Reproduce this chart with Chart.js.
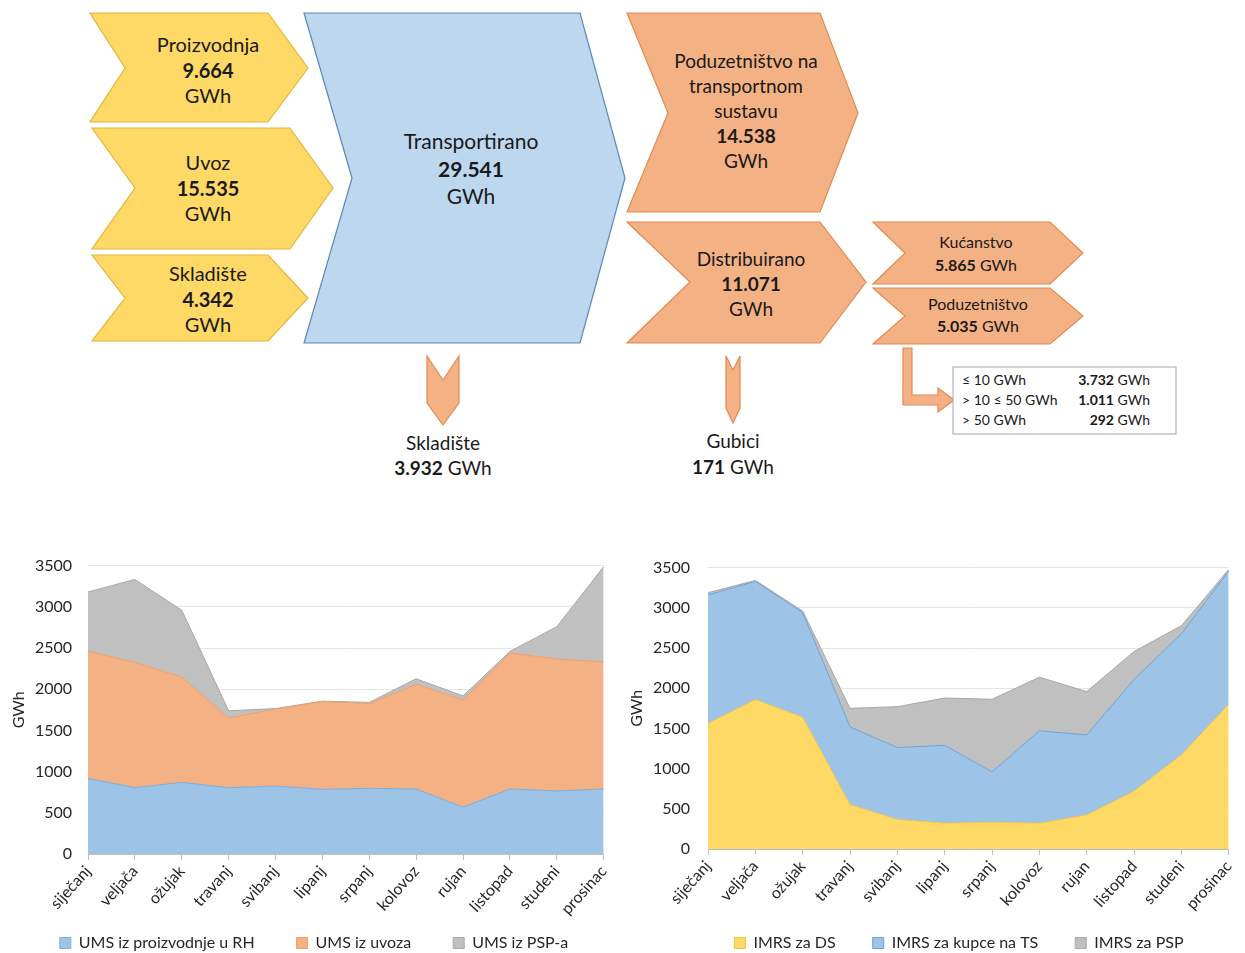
<!DOCTYPE html>
<html>
<head>
<meta charset="utf-8">
<script src="https://cdn.jsdelivr.net/npm/chart.js@4/dist/chart.umd.min.js"></script>
<style>
  html, body { margin: 0; padding: 0; background: #fff; overflow: hidden; width: 1245px; height: 953px; }
  #flow { position: absolute; left: 0; top: 0; }
  #leftChart { position: absolute; left: 0; top: 540px; }
  #rightChart { position: absolute; left: 620px; top: 540px; }
  svg text { font-family: Lato, "Open Sans", sans-serif; fill: #1a1a1a; }
</style>
</head>
<body>

<svg id="flow" width="1245" height="540" xmlns="http://www.w3.org/2000/svg">
  <!-- inputs -->
  <polygon points="90,13 268,13 308,68 268,122 90,122 125,68" fill="#ffd966" stroke="#e2b53a" stroke-width="1.2"/>
  <text x="208" y="52" font-size="20" text-anchor="middle">Proizvodnja</text>
  <text x="208" y="78" font-size="20" text-anchor="middle" font-weight="bold">9.664</text>
  <text x="208" y="103" font-size="20" text-anchor="middle">GWh</text>

  <polygon points="92,128 290,128 333,188 290,249 92,249 135,188" fill="#ffd966" stroke="#e2b53a" stroke-width="1.2"/>
  <text x="208" y="170" font-size="20" text-anchor="middle">Uvoz</text>
  <text x="208" y="196" font-size="20" text-anchor="middle" font-weight="bold">15.535</text>
  <text x="208" y="221" font-size="20" text-anchor="middle">GWh</text>

  <polygon points="92,255 268,255 308,298 268,341 92,341 125,298" fill="#ffd966" stroke="#e2b53a" stroke-width="1.2"/>
  <text x="208" y="281" font-size="20" text-anchor="middle">Skladište</text>
  <text x="208" y="307" font-size="20" text-anchor="middle" font-weight="bold">4.342</text>
  <text x="208" y="332" font-size="20" text-anchor="middle">GWh</text>

  <!-- transport -->
  <polygon points="304,13 580,13 625,178 580,343 304,343 352,178" fill="#bdd7ee" stroke="#5b87b8" stroke-width="1.2"/>
  <text x="471" y="149" font-size="21" text-anchor="middle">Transportirano</text>
  <text x="471" y="177" font-size="21" text-anchor="middle" font-weight="bold">29.541</text>
  <text x="471" y="204" font-size="21" text-anchor="middle">GWh</text>

  <!-- outputs -->
  <polygon points="627,13 820,13 858,113 820,212 627,212 668,113" fill="#f4b183" stroke="#e08a52" stroke-width="1.2"/>
  <text x="746" y="68" font-size="19" text-anchor="middle">Poduzetništvo na</text>
  <text x="746" y="93" font-size="19" text-anchor="middle">transportnom</text>
  <text x="746" y="118" font-size="19" text-anchor="middle">sustavu</text>
  <text x="746" y="143" font-size="19" text-anchor="middle" font-weight="bold">14.538</text>
  <text x="746" y="168" font-size="19" text-anchor="middle">GWh</text>

  <polygon points="627,222 820,222 866,282 820,343 627,343 690,282" fill="#f4b183" stroke="#e08a52" stroke-width="1.2"/>
  <text x="751" y="266" font-size="19" text-anchor="middle">Distribuirano</text>
  <text x="751" y="291" font-size="19" text-anchor="middle" font-weight="bold">11.071</text>
  <text x="751" y="316" font-size="19" text-anchor="middle">GWh</text>

  <polygon points="873,222 1050,222 1083,253 1050,284 873,284 905,253" fill="#f4b183" stroke="#e08a52" stroke-width="1.2"/>
  <text x="976" y="248" font-size="16" text-anchor="middle">Kućanstvo</text>
  <text x="976" y="271" font-size="16" text-anchor="middle"><tspan font-weight="bold">5.865</tspan> GWh</text>

  <polygon points="873,288 1050,288 1083,316 1050,344 873,344 905,316" fill="#f4b183" stroke="#e08a52" stroke-width="1.2"/>
  <text x="978" y="310" font-size="16" text-anchor="middle">Poduzetništvo</text>
  <text x="978" y="332" font-size="16" text-anchor="middle"><tspan font-weight="bold">5.035</tspan> GWh</text>

  <!-- down arrows -->
  <polygon points="427,356 443,380 459,356 459,403 443,425 427,403" fill="#f4b183" stroke="#e08a52" stroke-width="1.2"/>
  <text x="443" y="450" font-size="19" text-anchor="middle">Skladište</text>
  <text x="443" y="475" font-size="19" text-anchor="middle"><tspan font-weight="bold">3.932</tspan> GWh</text>

  <polygon points="726,356 733,370 740,356 740,408 733,423 726,408" fill="#f4b183" stroke="#e08a52" stroke-width="1.2"/>
  <text x="733" y="448" font-size="19" text-anchor="middle">Gubici</text>
  <text x="733" y="474" font-size="19" text-anchor="middle"><tspan font-weight="bold">171</tspan> GWh</text>

  <!-- L arrow and breakdown box -->
  <polygon points="903,348 912,348 912,395 938,395 938,388 954,400 938,412 938,405 903,405" fill="#f4b183" stroke="#e08a52" stroke-width="1.2"/>
  <rect x="953" y="367" width="223" height="67" fill="#fff" stroke="#a6a6a6" stroke-width="1"/>
  <text x="962" y="385" font-size="14">≤ 10 GWh</text>
  <text x="1150" y="385" font-size="14" text-anchor="end"><tspan font-weight="bold">3.732</tspan> GWh</text>
  <text x="962" y="405" font-size="14">&gt; 10 ≤ 50 GWh</text>
  <text x="1150" y="405" font-size="14" text-anchor="end"><tspan font-weight="bold">1.011</tspan> GWh</text>
  <text x="962" y="425" font-size="14">&gt; 50 GWh</text>
  <text x="1150" y="425" font-size="14" text-anchor="end"><tspan font-weight="bold">292</tspan> GWh</text>
</svg>

<canvas id="leftChart" width="620" height="467"></canvas>
<canvas id="rightChart" width="625" height="457"></canvas>

<script>
const months = ["siječanj", "veljača", "ožujak", "travanj", "svibanj", "lipanj",
                "srpanj", "kolovoz", "rujan", "listopad", "studeni", "prosinac"];

// left chart: UMS (GWh)
const umsProizvodnja = [917, 805, 869, 805, 825, 785, 797, 789, 568, 789, 765, 789];
const umsUvoz = [1542, 1522, 1278, 845, 933, 1065, 1029, 1269, 1302, 1650, 1602, 1542];
const umsPsp = [721, 1005, 812, 88, 7, 5, 14, 69, 48, 20, 392, 1157];

// right chart: IMRS (GWh)
const imrsDs = [1562, 1858, 1638, 551, 368, 320, 332, 320, 424, 719, 1171, 1798];
const imrsKupciTs = [1598, 1470, 1302, 967, 894, 970, 627, 1150, 994, 1390, 1506, 1662];
const imrsPsp = [28, 12, 20, 232, 508, 588, 903, 667, 540, 348, 100, 16];

const yTicks = { min: 0, max: 3500, step: 500 };

const FONT = "Lato, 'Open Sans', sans-serif";

// moves the legend to a fixed centre so item spacing doesn't eat axis room
const legendPlace = {
    id: "legendPlace",
    afterInit(chart, args, opts) {
        const lg = chart.legend;
        const draw = lg.draw.bind(lg);
        lg.draw = function () {
            const lab = lg.options.labels;
            const itemH = Math.max(lab.boxHeight, lab.font.size);
            const ctx = chart.ctx;
            ctx.save();
            ctx.translate(opts.x - (lg.left + lg.right) / 2, opts.y - (lg.top + lab.padding + itemH / 2));
            draw();
            ctx.restore();
        };
    },
};

function area(label, data, fill, line, first) {
    return {
        label: label,
        data: data,
        backgroundColor: fill,
        borderColor: line,
        borderWidth: 1,
        pointRadius: 0,
        tension: 0,
        fill: first ? "origin" : "-1",
    };
}

function makeOptions(o) {
    return {
        responsive: false,
        animation: false,
        layout: { padding: o.padding },
        scales: {
            x: {
                stacked: true,
                grid: { drawOnChartArea: false, drawTicks: true, tickLength: 6, color: "#bfbfbf" },
                border: { color: "#bfbfbf" },
                ticks: {
                    autoSkip: false,
                    minRotation: 48,
                    maxRotation: 48,
                    padding: 2,
                    color: "#262626",
                    font: { family: FONT, size: 16 },
                },
                afterFit: (scale) => { scale.height = 80; },
            },
            y: {
                stacked: true,
                min: yTicks.min,
                max: yTicks.max,
                ticks: {
                    stepSize: yTicks.step,
                    padding: o.yPad,
                    color: "#262626",
                    font: { family: FONT, size: 16 },
                    callback: (v) => String(v),
                },
                grid: { color: "#e4e4e4", drawTicks: false },
                border: { display: false },
                title: {
                    display: true,
                    text: "GWh",
                    color: "#262626",
                    font: { family: FONT, size: 16 },
                },
                afterFit: (scale) => { scale.width = o.yWidth; },
            },
        },
        plugins: {
            legend: {
                position: "bottom",
                labels: {
                    boxWidth: 11,
                    boxHeight: 11,
                    padding: o.legendPad,
                    color: "#262626",
                    font: { family: FONT, size: 16 },
                },
            },
            legendPlace: o.legendAt,
            tooltip: { enabled: false },
        },
    };
}

new Chart(document.getElementById("leftChart").getContext("2d"), {
    type: "line",
    data: {
        labels: months,
        datasets: [
            area("UMS iz proizvodnje u RH", umsProizvodnja, "#9dc3e6", "#7eaedc", true),
            area("UMS iz uvoza", umsUvoz, "#f4b183", "#eda06c", false),
            area("UMS iz PSP-a", umsPsp, "#c0c0c0", "#a8a8a8", false),
        ],
    },
    options: makeOptions({
        padding: { left: 5, right: 16, top: 22, bottom: 5 },
        yWidth: 83, yPad: 16, legendPad: 42,
        legendAt: { x: 314, y: 403 },
    }),
    plugins: [legendPlace],
});

new Chart(document.getElementById("rightChart").getContext("2d"), {
    type: "line",
    data: {
        labels: months,
        datasets: [
            area("IMRS za DS", imrsDs, "#ffd966", "#f0c64a", true),
            area("IMRS za kupce na TS", imrsKupciTs, "#9dc3e6", "#6ea3d6", false),
            area("IMRS za PSP", imrsPsp, "#c0c0c0", "#a8a8a8", false),
        ],
    },
    options: makeOptions({
        padding: { left: 3, right: 5, top: 17, bottom: 5 },
        yWidth: 85, yPad: 18, legendPad: 37,
        legendAt: { x: 339, y: 403 },
    }),
    plugins: [legendPlace],
});
</script>
</body>
</html>
